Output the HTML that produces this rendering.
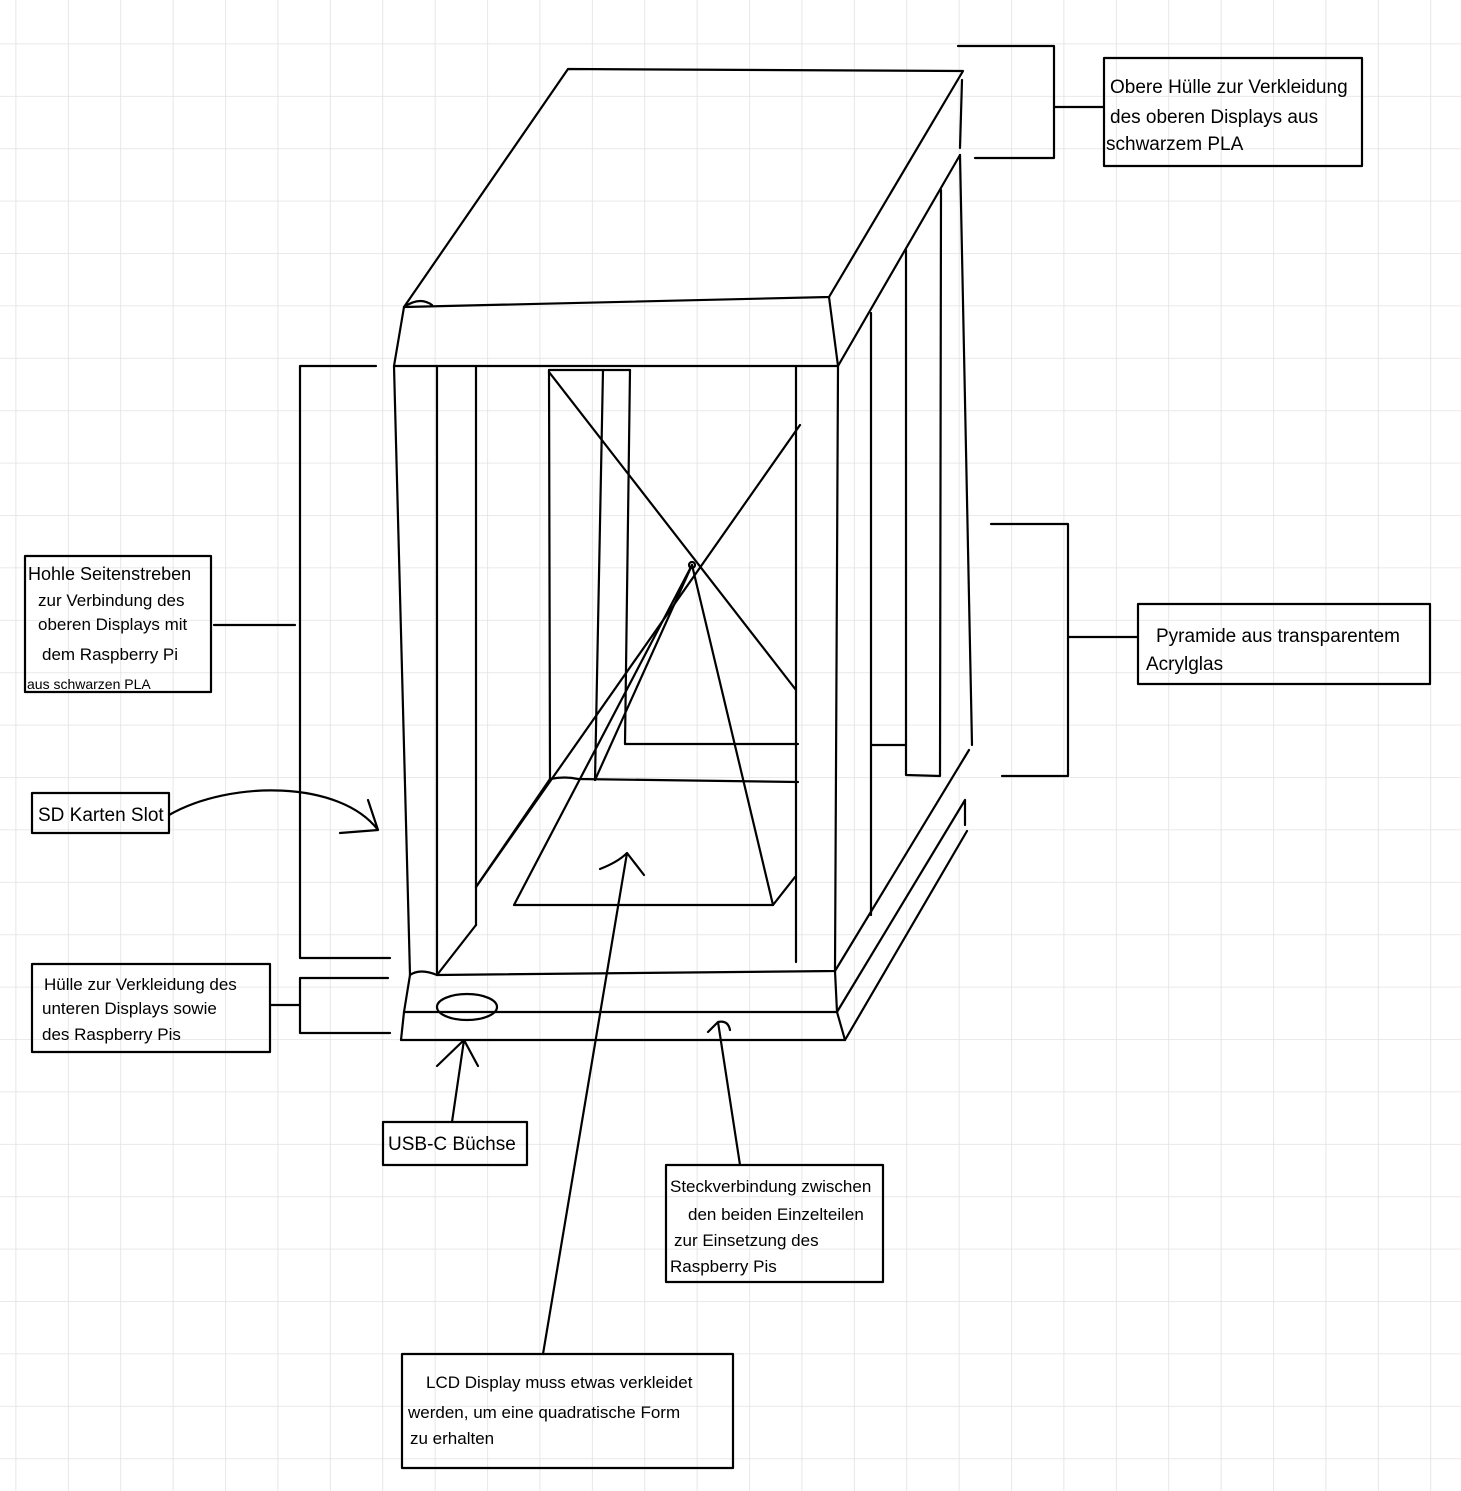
<!DOCTYPE html>
<html><head><meta charset="utf-8"><style>
html,body{margin:0;padding:0;background:#fff}
svg{display:block}
text{font-family:"Liberation Sans",sans-serif;font-size:19px;fill:#000}
</style></head><body>
<svg width="1461" height="1491" viewBox="0 0 1461 1491" xmlns="http://www.w3.org/2000/svg">
<defs>
<pattern id="g" x="15.5" y="43.5" width="52.4" height="52.4" patternUnits="userSpaceOnUse">
<path d="M0 0V52.4M0 0H52.4" stroke="#e2e2e2" stroke-width="1.6" fill="none"/>
</pattern>
</defs>
<rect width="1461" height="1491" fill="url(#g)"/>
<g stroke="#000" stroke-width="2.2" fill="none" stroke-linecap="round" stroke-linejoin="round">
<!-- lid -->
<path d="M568 69 L963 71 L829 297 L404 307 Z"/>
<path d="M404 307 Q420 296 432 305 M829 297 L838 366 L394 366 L404 307"/>
<path d="M962 80 L960 148"/>
<path d="M960 155 L838 366"/>
<path d="M960 155 L972 745"/>
<!-- front posts -->
<path d="M394 366 L410 975"/>
<path d="M437 366 L437 975"/>
<path d="M476 366 L476 925"/>
<path d="M796 366 L796 962"/>
<path d="M838 366 L835 970"/>
<!-- right posts -->
<path d="M871 313 L871 915"/>
<path d="M906 250 L906 775 L940 776 L941 190"/>
<path d="M871 745 L906 745"/>
<!-- back posts -->
<path d="M549 370 L550 779"/>
<path d="M603 370 L595 780"/>
<path d="M630 370 L625 744"/>
<path d="M549 370 L630 370"/>
<path d="M625 744 L798 744"/>
<path d="M550 779 Q565 776 578 779 L798 782"/>
<!-- floor -->
<path d="M437 975 L476 925 M476 887 L550 779"/>
<!-- pyramid -->
<path d="M549 372 L796 690"/>
<path d="M800 425 L476 887"/>
<path d="M692 565 L514 905 L773 905 L692 565"/>
<path d="M692 565 L595 780"/>
<path d="M773 905 L795 877"/>
<circle cx="692" cy="565" r="3"/>
<!-- base -->
<path d="M410 975 Q420 968 437 975 L835 971 L969 750"/>
<path d="M410 975 L404 1012 L837 1012 L835 971"/>
<path d="M837 1012 L965 800 M965 800 L965 825"/>
<path d="M404 1012 L401 1040 L845 1040 L837 1012"/>
<path d="M845 1040 L967 831"/>
<ellipse cx="467" cy="1007" rx="30" ry="13"/>
<!-- top right bracket -->
<path d="M958 46 L1054 46 L1054 158 L975 158 M1054 107 L1104 107"/>
<rect x="1104" y="58" width="258" height="108"/>
<!-- right bracket -->
<path d="M991 524 L1068 524 L1068 776 L1002 776 M1068 637 L1138 637"/>
<rect x="1138" y="604" width="292" height="80"/>
<!-- left bracket -->
<path d="M376 366 L300 366 L300 958 L390 958 M295 625 L214 625"/>
<rect x="25" y="556" width="186" height="136"/>
<!-- SD -->
<rect x="32" y="793" width="137" height="40"/>
<path d="M169 815 C230 780 340 780 378 830 M368 800 L378 830 L340 833"/>
<!-- lower housing -->
<path d="M388 978 L300 978 L300 1033 L390 1033 M300 1005 L270 1005"/>
<rect x="32" y="964" width="238" height="88"/>
<!-- USB -->
<rect x="383" y="1122" width="144" height="43"/>
<path d="M452 1122 L464 1040 M437 1066 L464 1040 L478 1066"/>
<!-- Steck -->
<rect x="666" y="1165" width="217" height="117"/>
<path d="M740 1165 L718 1022 M708 1032 L718 1022 Q728 1020 730 1030"/>
<!-- LCD -->
<rect x="402" y="1354" width="331" height="114"/>
<path d="M543 1354 L627 853 M600 869 Q618 862 627 853 L644 875"/>
</g>
<text x="1110" y="93">Obere Hülle zur Verkleidung</text>
<text x="1110" y="123">des oberen Displays aus</text>
<text x="1106" y="150">schwarzem PLA</text>
<text x="1156" y="642">Pyramide aus transparentem</text>
<text x="1146" y="670">Acrylglas</text>
<text x="28" y="580" style="font-size:18px">Hohle Seitenstreben</text>
<text x="38" y="606" style="font-size:17px">zur Verbindung des</text>
<text x="38" y="630" style="font-size:17px">oberen Displays mit</text>
<text x="42" y="660" style="font-size:17px">dem Raspberry Pi</text>
<text x="27" y="689" style="font-size:14px">aus schwarzen PLA</text>
<text x="38" y="821">SD Karten Slot</text>
<text x="44" y="990" style="font-size:17px">Hülle zur Verkleidung des</text>
<text x="42" y="1014" style="font-size:17px">unteren Displays sowie</text>
<text x="42" y="1040" style="font-size:17px">des Raspberry Pis</text>
<text x="388" y="1150">USB-C Büchse</text>
<text x="670" y="1192" style="font-size:17px">Steckverbindung zwischen</text>
<text x="688" y="1220" style="font-size:17px">den beiden Einzelteilen</text>
<text x="674" y="1246" style="font-size:17px">zur Einsetzung des</text>
<text x="670" y="1272" style="font-size:17px">Raspberry Pis</text>
<text x="426" y="1388" style="font-size:17px">LCD Display muss etwas verkleidet</text>
<text x="408" y="1418" style="font-size:17px">werden, um eine quadratische Form</text>
<text x="410" y="1444" style="font-size:17px">zu erhalten</text>
</svg>
</body></html>
